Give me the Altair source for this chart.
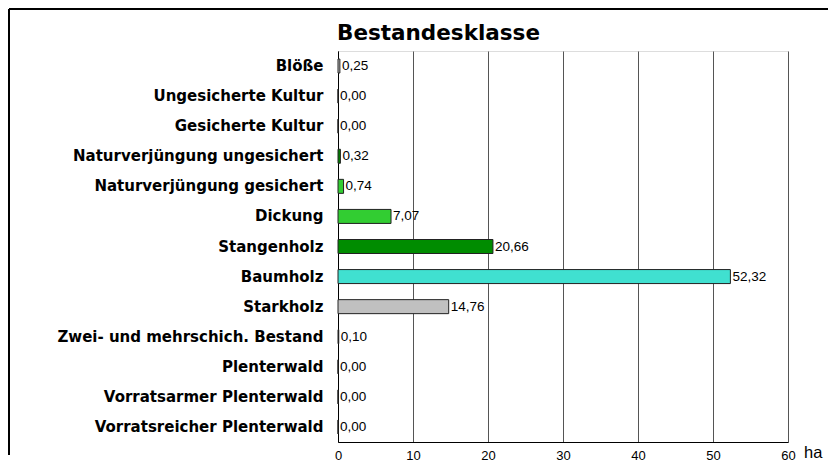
import altair as alt
import pandas as pd

categories = [
    "Blöße",
    "Ungesicherte Kultur",
    "Gesicherte Kultur",
    "Naturverjüngung ungesichert",
    "Naturverjüngung gesichert",
    "Dickung",
    "Stangenholz",
    "Baumholz",
    "Starkholz",
    "Zwei- und mehrschich. Bestand",
    "Plenterwald",
    "Vorratsarmer Plenterwald",
    "Vorratsreicher Plenterwald",
]
values = [0.25, 0.00, 0.00, 0.32, 0.74, 7.07, 20.66, 52.32, 14.76, 0.10, 0.00, 0.00, 0.00]
bar_colors = [
    "#c0c0c0", "#c0c0c0", "#c0c0c0", "#008000", "#32cd32", "#32cd32",
    "#008c00", "#40e0d0", "#c0c0c0", "#333333", "#c0c0c0", "#c0c0c0", "#c0c0c0",
]
x_ticks = [0, 10, 20, 30, 40, 50, 60]
chart_title = "Bestandesklasse"
unit_label = "ha"

df = pd.DataFrame({"klasse": categories, "ha": values})

LABEL_FONT = "DejaVu Sans"
NUM_FONT = "Liberation Sans"
W, H = 450, 391

y_enc = alt.Y(
    "klasse:N",
    sort=categories,
    scale=alt.Scale(paddingInner=0, paddingOuter=0),
    axis=alt.Axis(
        title=None,
        labelFont=LABEL_FONT,
        labelFontSize=15,
        labelFontWeight="bold",
        labelColor="#000000",
        labelPadding=15,
        ticks=False,
        domainColor="#000000",
        domainWidth=1,
        grid=False,
        labelLimit=400,
    ),
)
x_enc = alt.X(
    "ha:Q",
    scale=alt.Scale(domain=[0, 60], nice=False),
    axis=alt.Axis(
        values=x_ticks,
        title=None,
        labelFont=NUM_FONT,
        labelFontSize=13,
        labelColor="#000000",
        labelPadding=7,
        ticks=False,
        domainColor="#000000",
        domainWidth=1,
        grid=True,
        gridColor="#555555",
        gridWidth=1,
        labelFlush=False,
        labelOverlap=False,
    ),
)

bars = alt.Chart(df).mark_bar(height=14, stroke="#222222", strokeWidth=1).encode(
    y=y_enc,
    x=x_enc,
    color=alt.Color(
        "klasse:N",
        scale=alt.Scale(domain=categories, range=bar_colors),
        legend=None,
    ),
)

labels = alt.Chart(df).transform_calculate(
    lbl="replace(format(datum.ha, '.2f'), '.', ',')"
).mark_text(
    align="left", baseline="middle", dx=2, font=NUM_FONT, fontSize=13.5, color="#000000"
).encode(
    y=alt.Y("klasse:N", sort=categories),
    x=alt.X("ha:Q"),
    text="lbl:N",
)

one = pd.DataFrame({"k": [0]})
top_rule = alt.Chart(one).mark_rule(color="#000000", strokeWidth=2).encode(
    x=alt.value(-329), x2=alt.value(490), y=alt.value(-42)
)
left_rule = alt.Chart(one).mark_rule(color="#000000", strokeWidth=2).encode(
    x=alt.value(-329), y=alt.value(-42), y2=alt.value(404)
)
title_text = alt.Chart(one).mark_text(
    align="left", baseline="alphabetic", font=LABEL_FONT, fontSize=21.5,
    fontWeight="bold", color="#000000"
).encode(x=alt.value(-1), y=alt.value(-11), text=alt.value(chart_title))
unit_text = alt.Chart(one).mark_text(
    align="left", baseline="alphabetic", font=NUM_FONT, fontSize=16.5, color="#000000"
).encode(x=alt.value(466), y=alt.value(407), text=alt.value(unit_label))

chart = alt.layer(bars, labels, top_rule, left_rule, title_text, unit_text).properties(
    width=W,
    height=H,
    padding=0,
).configure_view(
    stroke="#666666", strokeWidth=1
).configure(
    background="#ffffff"
)

chart.save("out.html", embed_options={"renderer": "svg", "actions": False})
